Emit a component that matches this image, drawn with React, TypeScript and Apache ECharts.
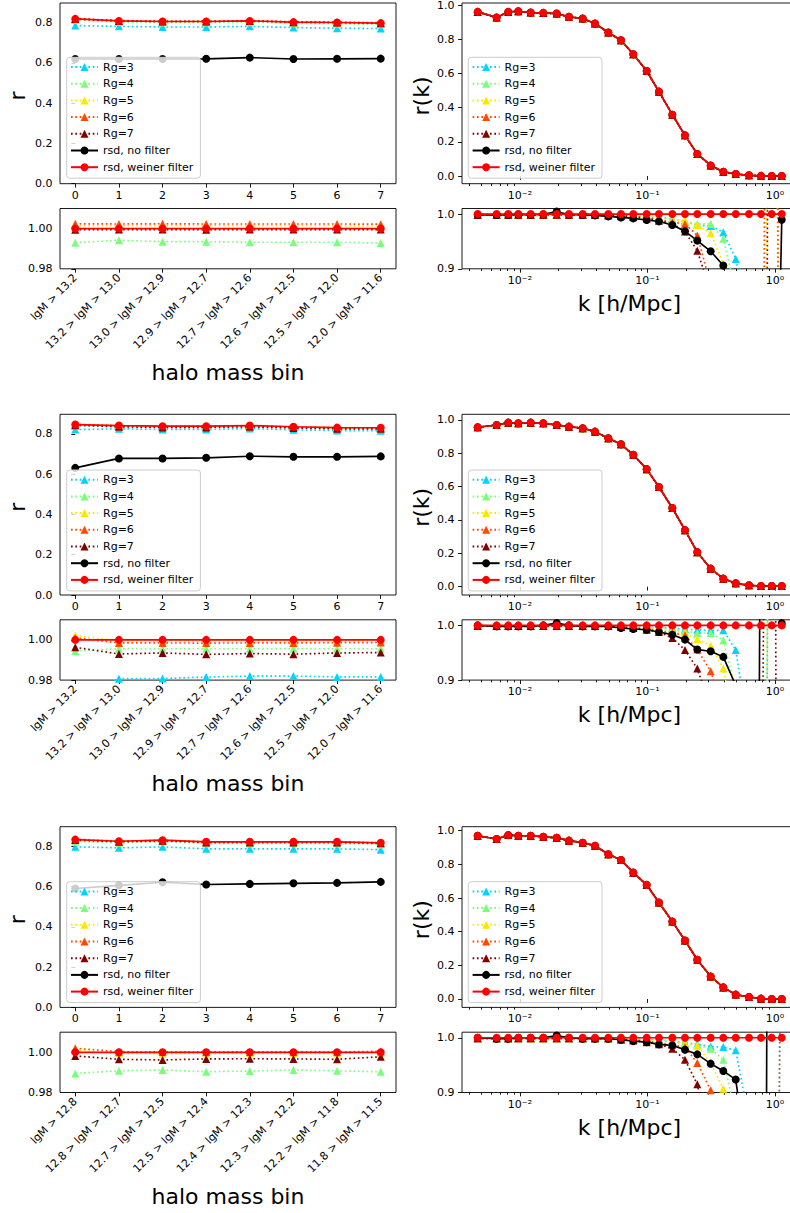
import React, { useEffect, useRef } from 'react';
import * as echarts from 'echarts';

const FONT = 'DejaVu Sans';

const SERIES_NAMES = ['Rg=3', 'Rg=4', 'Rg=5', 'Rg=6', 'Rg=7', 'rsd, no filter', 'rsd, weiner filter'];
const SERIES_COLORS = ['#00d4ff', '#7bff7b', '#ffe600', '#ff4900', '#800000', '#000000', '#ff0000'];

// tick values / labels
const BIN_TICKS = [0, 1, 2, 3, 4, 5, 6, 7];
const BINS_A = ['lgM > 13.2', '13.2 > lgM > 13.0', '13.0 > lgM > 12.9', '12.9 > lgM > 12.7', '12.7 > lgM > 12.6', '12.6 > lgM > 12.5', '12.5 > lgM > 12.0', '12.0 > lgM > 11.6'];
const BINS_B = ['lgM > 12.8', '12.8 > lgM > 12.7', '12.7 > lgM > 12.5', '12.5 > lgM > 12.4', '12.4 > lgM > 12.3', '12.3 > lgM > 12.2', '12.2 > lgM > 11.8', '11.8 > lgM > 11.5'];
const R_TICKS = [0, 0.2, 0.4, 0.6, 0.8];
const RK_TICKS = [0, 0.2, 0.4, 0.6, 0.8, 1.0];
const RATIO_L_TICKS = [0.98, 1.0];
const RATIO_R_TICKS = [0.9, 1.0];
const K_MAJOR = [0.01, 0.1, 1];
const K_MINOR = [0.004, 0.005, 0.006, 0.007, 0.008, 0.009, 0.02, 0.03, 0.04, 0.05, 0.06, 0.07, 0.08, 0.09, 0.2, 0.3, 0.4, 0.5, 0.6, 0.7, 0.8, 0.9];
const K_LABELS: Record<string, string> = { '-2': '10⁻²', '-1': '10⁻¹', '0': '10⁰' };

// k bins [h/Mpc]
const K = [0.00466, 0.00656, 0.00809, 0.0097, 0.01213, 0.01524, 0.01941, 0.02422, 0.03104, 0.03874, 0.04929, 0.06197, 0.0774, 0.09862, 0.123, 0.1566, 0.1969, 0.2458, 0.3132, 0.3933, 0.4922, 0.6256, 0.7768, 0.9418, 1.13];

// ---------- Row 1 ----------
const P1_RG3 = [0.785, 0.781, 0.778, 0.778, 0.781, 0.775, 0.772, 0.770];
const P1_RG4 = [0.812, 0.803, 0.800, 0.800, 0.802, 0.797, 0.794, 0.791];
const P1_RG5 = [0.819, 0.809, 0.806, 0.806, 0.809, 0.803, 0.801, 0.798];
const P1_RG6 = [0.820, 0.810, 0.807, 0.807, 0.810, 0.804, 0.802, 0.799];
const P1_RG7 = [0.818, 0.808, 0.805, 0.805, 0.808, 0.802, 0.800, 0.797];
const P1_NF = [0.619, 0.619, 0.619, 0.620, 0.626, 0.619, 0.620, 0.621];
const P1_WF = [0.818, 0.808, 0.805, 0.805, 0.808, 0.802, 0.800, 0.797];

const Q1_RG3 = [0.960, 0.967, 0.966, 0.966, 0.967, 0.966, 0.965, 0.966];
const Q1_RG4 = [0.9930, 0.9942, 0.9935, 0.9935, 0.9932, 0.9932, 0.9932, 0.9928];
const Q1_RG5 = [1.0015, 1.0014, 1.0015, 1.0014, 1.0014, 1.0014, 1.0014, 1.0013];
const Q1_RG6 = [1.0024, 1.0023, 1.0024, 1.0023, 1.0023, 1.0023, 1.0023, 1.0022];
const Q1_RG7 = [0.9994, 0.9995, 0.9995, 0.9994, 0.9995, 0.9995, 0.9995, 0.9995];
const Q1_WF = [1, 1, 1, 1, 1, 1, 1, 1];

const C1_WF = [0.961, 0.928, 0.961, 0.965, 0.957, 0.955, 0.951, 0.932, 0.922, 0.893, 0.840, 0.795, 0.713, 0.615, 0.494, 0.359, 0.238, 0.129, 0.062, 0.025, 0.012, 0.004, 0.001, 0.0, 0.0];

const D1_RG3 = [0.999, 0.999, 0.999, 0.999, 0.999, 0.999, 0.999, 0.999, 0.999, 0.999, 0.999, 0.998, 0.998, 0.997, 0.995, 0.991, 0.986, 0.980, 0.978, 0.967, 0.918, 0.80, 0.60, 0.50, 0.40];
const D1_RG4 = [0.999, 0.999, 0.999, 0.999, 0.999, 0.999, 0.999, 0.999, 0.999, 0.999, 0.998, 0.998, 0.997, 0.996, 0.994, 0.990, 0.986, 0.982, 0.982, 0.955, 0.86, 0.70, 0.40, 0.30, 0.50];
const D1_RG5 = [0.999, 0.999, 0.999, 0.999, 0.999, 0.999, 0.999, 0.999, 0.999, 0.999, 0.998, 0.998, 0.997, 0.995, 0.992, 0.990, 0.988, 0.980, 0.965, 0.909, 0.80, 0.60, -1.0, 3.0, -0.5];
const D1_RG6 = [0.999, 0.999, 0.999, 0.999, 0.999, 0.999, 0.999, 0.999, 0.999, 0.999, 0.998, 0.997, 0.996, 0.994, 0.990, 0.985, 0.982, 0.961, 0.870, 0.750, 0.60, 0.30, -0.5, 4.2, -1.0];
const D1_RG7 = [0.999, 0.999, 0.999, 0.999, 0.999, 0.999, 0.999, 0.999, 0.999, 0.999, 0.998, 0.997, 0.995, 0.992, 0.988, 0.983, 0.968, 0.933, 0.857, 0.70, 0.50, 0.20, -3.0, 3.6, 2.0];
const D1_NF = [0.9988, 0.9982, 0.9988, 0.9994, 0.9988, 0.9994, 1.0048, 0.9988, 0.9988, 0.9976, 0.9958, 0.9939, 0.9921, 0.9891, 0.9867, 0.980, 0.9685, 0.9515, 0.932, 0.906, 0.80, 0.60, 0.35, 0.10, 0.9897];
const D_WF = [1, 1, 1, 1, 1, 1, 1, 1, 1, 1, 1, 1, 1, 1, 1, 1, 1, 1, 1, 1, 1, 1, 1, 1, 1];

// ---------- Row 2 ----------
const P2_RG3 = [0.821, 0.825, 0.822, 0.822, 0.826, 0.820, 0.816, 0.815];
const P2_RG4 = [0.841, 0.837, 0.834, 0.834, 0.837, 0.831, 0.827, 0.826];
const P2_RG5 = [0.848, 0.841, 0.838, 0.838, 0.841, 0.835, 0.831, 0.830];
const P2_RG6 = [0.847, 0.840, 0.837, 0.837, 0.840, 0.834, 0.830, 0.829];
const P2_RG7 = [0.843, 0.835, 0.832, 0.832, 0.835, 0.829, 0.825, 0.825];
const P2_NF = [0.631, 0.678, 0.678, 0.681, 0.689, 0.686, 0.686, 0.688];
const P2_WF = [0.846, 0.841, 0.838, 0.838, 0.841, 0.835, 0.831, 0.830];

const Q2_RG3 = [0.970, 0.9807, 0.9808, 0.9815, 0.9820, 0.9820, 0.9816, 0.9816];
const Q2_RG4 = [0.9945, 0.9956, 0.9956, 0.9956, 0.9956, 0.9956, 0.9956, 0.9956];
const Q2_RG5 = [1.0022, 0.9996, 0.9996, 0.9995, 0.9996, 0.9996, 0.9996, 0.9997];
const Q2_RG6 = [1.0010, 0.9985, 0.9985, 0.9984, 0.9985, 0.9985, 0.9986, 0.9987];
const Q2_RG7 = [0.9963, 0.9930, 0.9935, 0.9928, 0.9932, 0.9929, 0.9935, 0.9937];
const Q2_WF = [1, 1, 1, 1, 1, 1, 1, 1];

const C2_WF = [0.956, 0.970, 0.984, 0.980, 0.984, 0.980, 0.970, 0.960, 0.950, 0.930, 0.890, 0.854, 0.791, 0.705, 0.598, 0.472, 0.339, 0.207, 0.108, 0.048, 0.020, 0.008, 0.004, 0.004, 0.004];

const D2_RG3 = [0.999, 0.999, 0.999, 0.999, 0.999, 0.999, 0.999, 0.999, 0.999, 0.999, 0.999, 0.998, 0.998, 0.997, 0.996, 0.995, 0.993, 0.992, 0.991, 0.991, 0.955, 0.80, -2.0, 3.0, 2.0];
const D2_RG4 = [0.999, 0.999, 0.999, 0.999, 0.999, 0.999, 0.999, 0.999, 0.999, 0.999, 0.999, 0.998, 0.997, 0.996, 0.995, 0.993, 0.990, 0.986, 0.986, 0.973, 0.88, 0.70, -2.0, 3.0, 2.0];
const D2_RG5 = [0.999, 0.999, 0.999, 0.999, 0.999, 0.999, 0.999, 0.999, 0.999, 0.999, 0.999, 0.998, 0.997, 0.995, 0.993, 0.990, 0.986, 0.975, 0.963, 0.921, 0.80, 0.60, -2.0, 3.0, 2.0];
const D2_RG6 = [0.999, 0.999, 0.999, 0.999, 0.999, 0.999, 0.999, 0.999, 0.999, 0.999, 0.999, 0.997, 0.996, 0.994, 0.990, 0.986, 0.982, 0.956, 0.916, 0.85, 0.70, 0.50, 0.30, 0.40, 0.50];
const D2_RG7 = [0.999, 0.999, 0.999, 0.999, 0.999, 0.999, 0.999, 0.999, 0.999, 0.999, 0.999, 0.997, 0.995, 0.992, 0.988, 0.977, 0.955, 0.921, 0.85, 0.70, 0.50, 0.30, 0.40, 3.0, -2.0];
const D2_NF = [1.0, 0.9982, 0.9982, 0.9982, 0.9982, 1.0, 1.0042, 1.0, 0.9982, 0.9982, 0.9982, 0.9952, 0.9933, 0.9921, 0.9879, 0.983, 0.974, 0.9558, 0.9527, 0.9424, 0.89, -3.0, 1.5, 1.2, 1.004];

// ---------- Row 3 ----------
const P3_RG3 = [0.797, 0.792, 0.797, 0.787, 0.787, 0.787, 0.787, 0.783];
const P3_RG4 = [0.824, 0.817, 0.823, 0.814, 0.814, 0.815, 0.814, 0.809];
const P3_RG5 = [0.834, 0.825, 0.829, 0.822, 0.822, 0.822, 0.822, 0.817];
const P3_RG6 = [0.835, 0.825, 0.830, 0.822, 0.822, 0.822, 0.822, 0.817];
const P3_RG7 = [0.831, 0.822, 0.827, 0.819, 0.819, 0.819, 0.819, 0.815];
const P3_NF = [0.590, 0.606, 0.621, 0.610, 0.613, 0.616, 0.618, 0.623];
const P3_WF = [0.833, 0.825, 0.830, 0.822, 0.822, 0.822, 0.822, 0.817];

const Q3_RG3 = [0.957, 0.960, 0.960, 0.957, 0.957, 0.957, 0.957, 0.958];
const Q3_RG4 = [0.9895, 0.9908, 0.9912, 0.9903, 0.9907, 0.9912, 0.9908, 0.9903];
const Q3_RG5 = [1.0010, 0.9995, 0.9993, 0.9995, 0.9995, 0.9995, 0.9995, 0.9998];
const Q3_RG6 = [1.0020, 1.0003, 1.0002, 1.0002, 1.0002, 1.0002, 1.0002, 1.0005];
const Q3_RG7 = [0.9982, 0.9965, 0.9962, 0.9967, 0.9968, 0.9967, 0.9965, 0.9978];
const Q3_WF = [1, 1, 1, 1, 1, 1, 1, 1];

const C3_WF = [0.970, 0.951, 0.974, 0.970, 0.970, 0.964, 0.958, 0.941, 0.929, 0.911, 0.860, 0.826, 0.751, 0.678, 0.573, 0.460, 0.348, 0.233, 0.134, 0.069, 0.026, 0.012, 0.002, 0.0, 0.0];

const D3_RG3 = [0.999, 0.999, 0.999, 0.999, 0.999, 0.999, 0.999, 0.999, 0.999, 0.999, 0.999, 0.998, 0.998, 0.997, 0.996, 0.994, 0.991, 0.988, 0.984, 0.983, 0.977, 0.85, 0.70, -1.0, 1.5];
const D3_RG4 = [0.999, 0.999, 0.999, 0.999, 0.999, 0.999, 0.999, 0.999, 0.999, 0.999, 0.999, 0.998, 0.997, 0.996, 0.995, 0.993, 0.990, 0.986, 0.980, 0.960, 0.86, 0.70, 0.50, 0.40, 0.30];
const D3_RG5 = [0.999, 0.999, 0.999, 0.999, 0.999, 0.999, 0.999, 0.999, 0.999, 0.999, 0.999, 0.998, 0.997, 0.995, 0.993, 0.991, 0.989, 0.986, 0.953, 0.907, 0.80, 0.60, 0.40, 0.30, 0.20];
const D3_RG6 = [0.999, 0.999, 0.999, 0.999, 0.999, 0.999, 0.999, 0.999, 0.999, 0.999, 0.999, 0.997, 0.996, 0.994, 0.990, 0.987, 0.983, 0.954, 0.904, 0.80, 0.60, 0.40, 0.20, -1.0, 1.5];
const D3_RG7 = [0.999, 0.999, 0.999, 0.999, 0.999, 0.999, 0.999, 0.999, 0.999, 0.999, 0.999, 0.997, 0.995, 0.992, 0.988, 0.980, 0.960, 0.915, 0.80, 0.60, 0.40, 0.20, 0.10, 0.10, 0.10];
const D3_NF = [1.0, 0.9982, 0.9982, 1.0, 1.0, 1.0, 1.0042, 1.0, 0.9982, 0.9982, 0.9982, 0.9964, 0.9939, 0.9921, 0.9879, 0.9861, 0.9782, 0.9697, 0.9527, 0.9394, 0.9236, 0.75, -2.0, 3.57, 2.0];

// ---------- layout ----------
const TOPS = [3, 414.3, 826.7];
const TOP_H = 180.7;
const BOT_OFF = 205.5;
const BOT_H = 60.3;
const LEFT_X = 60;
const LEFT_W = 336;
const RIGHT_X = 462;
const RIGHT_W = 335;
const LEGEND_TOPS = [57.3, 470, 881.7];
const LABEL_DY = [0, 411.3, 823.7];
const RK_RANGE = [[-0.045, 1.013], [-0.05, 1.034], [-0.05, 1.024]];

function buildOption() {
  const rows = [
    {
      bins: BINS_A,
      top: [P1_RG3, P1_RG4, P1_RG5, P1_RG6, P1_RG7, P1_NF, P1_WF],
      ratio: [Q1_RG3, Q1_RG4, Q1_RG5, Q1_RG6, Q1_RG7, null, Q1_WF],
      curve: [C1_WF, C1_WF, C1_WF, C1_WF, C1_WF, C1_WF, C1_WF],
      curveRatio: [D1_RG3, D1_RG4, D1_RG5, D1_RG6, D1_RG7, D1_NF, D_WF],
    },
    {
      bins: BINS_A,
      top: [P2_RG3, P2_RG4, P2_RG5, P2_RG6, P2_RG7, P2_NF, P2_WF],
      ratio: [Q2_RG3, Q2_RG4, Q2_RG5, Q2_RG6, Q2_RG7, null, Q2_WF],
      curve: [C2_WF, C2_WF, C2_WF, C2_WF, C2_WF, C2_WF, C2_WF],
      curveRatio: [D2_RG3, D2_RG4, D2_RG5, D2_RG6, D2_RG7, D2_NF, D_WF],
    },
    {
      bins: BINS_B,
      top: [P3_RG3, P3_RG4, P3_RG5, P3_RG6, P3_RG7, P3_NF, P3_WF],
      ratio: [Q3_RG3, Q3_RG4, Q3_RG5, Q3_RG6, Q3_RG7, null, Q3_WF],
      curve: [C3_WF, C3_WF, C3_WF, C3_WF, C3_WF, C3_WF, C3_WF],
      curveRatio: [D3_RG3, D3_RG4, D3_RG5, D3_RG6, D3_RG7, D3_NF, D_WF],
    },
  ];

  const grids: any[] = [];
  const xAxes: any[] = [];
  const yAxes: any[] = [];
  const series: any[] = [];
  const legends: any[] = [];
  const graphics: any[] = [];

  const labelStyle = { color: '#000', fontSize: 11, fontFamily: FONT };
  const tick = (vals: number[], len = 3.9) => ({
    show: true, customValues: vals, length: len, lineStyle: { color: '#000', width: 0.9 },
  });

  const addGrid = (left: number, top: number, width: number, height: number) => {
    grids.push({
      left, top, width, height, show: true, borderColor: '#000', borderWidth: 0.9,
      backgroundColor: 'transparent', containLabel: false, outerBoundsMode: 'none',
    });
    return grids.length - 1;
  };

  const mkSeries = (j: number, xi: number, yi: number, data: number[][]) => ({
    type: 'line',
    name: SERIES_NAMES[j],
    xAxisIndex: xi,
    yAxisIndex: yi,
    data,
    symbol: j < 5 ? 'triangle' : 'circle',
    symbolSize: 8,
    showSymbol: true,
    clip: true,
    silent: true,
    emphasis: { disabled: true },
    itemStyle: { color: SERIES_COLORS[j], borderWidth: 0 },
    lineStyle: { color: SERIES_COLORS[j], width: 1.65, type: j < 5 ? [1.65, 2.7] : 'solid' },
  });

  const minorAxes: any[] = [];

  rows.forEach((row, r) => {
    const t = TOPS[r];
    // top-left: r per mass bin
    const g0 = addGrid(LEFT_X, t, LEFT_W, TOP_H);
    xAxes.push({
      type: 'value', gridIndex: g0, min: -0.35, max: 7.35, position: 'bottom',
      axisLine: { show: false }, splitLine: { show: false },
      axisTick: tick(BIN_TICKS),
      axisLabel: { ...labelStyle, show: true, customValues: BIN_TICKS, margin: 6, formatter: (v: number) => String(Math.round(v)) },
    });
    yAxes.push({
      type: 'value', gridIndex: g0, min: 0, max: 0.897, position: 'left',
      axisLine: { show: false }, splitLine: { show: false },
      axisTick: tick(R_TICKS),
      axisLabel: { ...labelStyle, show: true, customValues: R_TICKS, margin: 7.5, formatter: (v: number) => v.toFixed(1) },
    });
    // bottom-left: ratio
    const g1 = addGrid(LEFT_X, t + BOT_OFF, LEFT_W, BOT_H);
    xAxes.push({
      type: 'value', gridIndex: g1, min: -0.35, max: 7.35, position: 'bottom',
      axisLine: { show: false }, splitLine: { show: false },
      axisTick: tick(BIN_TICKS),
      axisLabel: {
        ...labelStyle, show: true, customValues: BIN_TICKS, rotate: 45, margin: 7,
        formatter: (v: number) => row.bins[Math.round(v)],
      },
    });
    yAxes.push({
      type: 'value', gridIndex: g1, min: 0.98, max: 1.01, position: 'left',
      axisLine: { show: false }, splitLine: { show: false },
      axisTick: tick(RATIO_L_TICKS),
      axisLabel: { ...labelStyle, show: true, customValues: RATIO_L_TICKS, margin: 7.5, formatter: (v: number) => v.toFixed(2) },
    });
    // top-right: r(k)
    const g2 = addGrid(RIGHT_X, t, RIGHT_W, TOP_H);
    xAxes.push({
      type: 'log', logBase: 10, gridIndex: g2, min: 0.00351, max: 1.488, position: 'bottom',
      axisLine: { show: false }, splitLine: { show: false }, minorTick: { show: false },
      axisTick: tick(K_MAJOR),
      axisLabel: { ...labelStyle, show: true, customValues: K_MAJOR, margin: 6, formatter: (v: number) => K_LABELS[String(Math.round(Math.log10(v)))] },
    });
    minorAxes.push(g2);
    yAxes.push({
      type: 'value', gridIndex: g2, min: RK_RANGE[r][0], max: RK_RANGE[r][1], position: 'left',
      axisLine: { show: false }, splitLine: { show: false },
      axisTick: tick(RK_TICKS),
      axisLabel: { ...labelStyle, show: true, customValues: RK_TICKS, margin: 7.5, formatter: (v: number) => v.toFixed(1) },
    });
    // bottom-right: ratio r(k)
    const g3 = addGrid(RIGHT_X, t + BOT_OFF, RIGHT_W, BOT_H);
    xAxes.push({
      type: 'log', logBase: 10, gridIndex: g3, min: 0.00351, max: 1.488, position: 'bottom',
      axisLine: { show: false }, splitLine: { show: false }, minorTick: { show: false },
      axisTick: tick(K_MAJOR),
      axisLabel: { ...labelStyle, show: true, customValues: K_MAJOR, margin: 6, formatter: (v: number) => K_LABELS[String(Math.round(Math.log10(v)))] },
    });
    minorAxes.push(g3);
    yAxes.push({
      type: 'value', gridIndex: g3, min: 0.9, max: 1.0102, position: 'left',
      axisLine: { show: false }, splitLine: { show: false },
      axisTick: tick(RATIO_R_TICKS),
      axisLabel: { ...labelStyle, show: true, customValues: RATIO_R_TICKS, margin: 7.5, formatter: (v: number) => v.toFixed(1) },
    });

    for (let j = 0; j < 7; j++) {
      series.push(mkSeries(j, g0, g0, row.top[j].map((v, i) => [i, v])));
    }
    for (let j = 0; j < 7; j++) {
      const arr = row.ratio[j];
      if (arr) series.push(mkSeries(j, g1, g1, arr.map((v, i) => [i, v])));
    }
    for (let j = 0; j < 7; j++) {
      series.push(mkSeries(j, g2, g2, row.curve[j].map((v, i) => [K[i], v])));
    }
    for (let j = 0; j < 7; j++) {
      series.push(mkSeries(j, g3, g3, row.curveRatio[j].map((v, i) => [K[i], v])));
    }

    const legendBase = {
      orient: 'vertical', top: LEGEND_TOPS[r], data: SERIES_NAMES, selectedMode: false,
      itemWidth: 27, itemHeight: 10, itemGap: 5.7, padding: [4.2, 7, 5.5, 3.3],
      backgroundColor: 'rgba(255,255,255,0.8)', borderColor: '#cccccc', borderWidth: 1, borderRadius: 3,
      textStyle: { color: '#000', fontSize: 11, fontFamily: FONT },
      z: 10,
    };
    legends.push({ ...legendBase, left: 66.7 });
    legends.push({ ...legendBase, left: 468.3 });

    const dy = LABEL_DY[r];
    const titleStyle = { fill: '#000', fontSize: 22, fontFamily: FONT, align: 'center', verticalAlign: 'middle' };
    graphics.push({ type: 'text', x: 17.3, y: 96 + dy, rotation: Math.PI / 2, style: { ...titleStyle, text: 'r' } });
    graphics.push({ type: 'text', x: 421.7, y: 96 + dy, rotation: Math.PI / 2, style: { ...titleStyle, text: 'r(k)' } });
    graphics.push({ type: 'text', x: 228, y: 372.4 + dy, style: { ...titleStyle, text: 'halo mass bin' } });
    graphics.push({ type: 'text', x: 629.5, y: 303.4 + dy, style: { ...titleStyle, text: 'k [h/Mpc]' } });
  });

  // minor ticks for the log axes
  minorAxes.forEach((g) => {
    xAxes.push({
      type: 'log', logBase: 10, gridIndex: g, min: 0.00351, max: 1.488, position: 'bottom',
      axisLine: { show: false }, splitLine: { show: false }, axisLabel: { show: false },
      axisTick: tick(K_MINOR, 2.2),
    });
  });

  return {
    animation: false,
    backgroundColor: '#ffffff',
    grid: grids,
    xAxis: xAxes,
    yAxis: yAxes,
    legend: legends,
    series,
    graphic: { elements: graphics },
  };
}

export default function App() {
  const ref = useRef<HTMLDivElement>(null);
  useEffect(() => {
    if (!ref.current) return;
    const chart = echarts.init(ref.current, null, { renderer: 'svg', width: 790, height: 1213 });
    chart.setOption(buildOption() as any);
    return () => chart.dispose();
  }, []);
  return <div ref={ref} style={{ position: 'absolute', left: 0, top: 0, width: 790, height: 1213, background: '#fff' }} />;
}
